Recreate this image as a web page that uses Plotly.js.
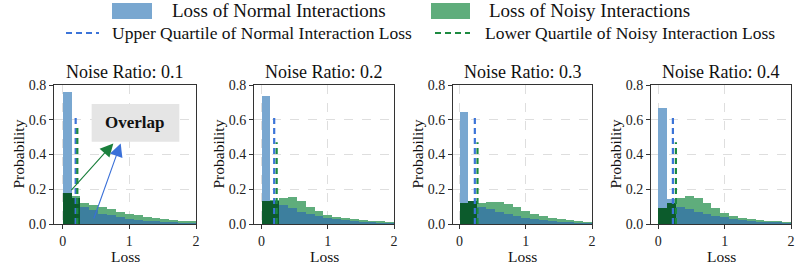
<!DOCTYPE html>
<html><head><meta charset="utf-8">
<script src="https://cdn.plot.ly/plotly-3.0.1.min.js"></script>
<style>html,body{margin:0;padding:0;background:#fff}#chart{width:806px;height:266px}</style>
</head><body><div id="chart"></div>
<script>
// ---- data ----
const panelTitles = ["Noise Ratio: 0.1", "Noise Ratio: 0.2", "Noise Ratio: 0.3", "Noise Ratio: 0.4"];
const binWidth = 2 / 15;
const normal1 = [0.76, 0.15, 0.10, 0.08, 0.06, 0.05, 0.04, 0.03, 0.025, 0.02, 0.015, 0.012, 0.01, 0.008, 0.006];
const noisy1  = [0.18, 0.16, 0.12, 0.11, 0.10, 0.085, 0.07, 0.06, 0.05, 0.04, 0.035, 0.03, 0.025, 0.02, 0.015];
const normal2 = [0.735, 0.13, 0.11, 0.09, 0.07, 0.055, 0.045, 0.035, 0.028, 0.022, 0.017, 0.013, 0.01, 0.008, 0.006];
const noisy2  = [0.134, 0.14, 0.15, 0.157, 0.13, 0.10, 0.072, 0.052, 0.04, 0.035, 0.027, 0.022, 0.018, 0.015, 0.012];
const normal3 = [0.643, 0.13, 0.10, 0.085, 0.07, 0.057, 0.046, 0.036, 0.028, 0.022, 0.017, 0.013, 0.01, 0.008, 0.006];
const noisy3  = [0.12, 0.134, 0.12, 0.125, 0.128, 0.115, 0.095, 0.075, 0.06, 0.045, 0.035, 0.028, 0.022, 0.018, 0.014];
const normal4 = [0.665, 0.142, 0.095, 0.085, 0.07, 0.06, 0.048, 0.038, 0.03, 0.024, 0.018, 0.014, 0.011, 0.009, 0.007];
const noisy4  = [0.09, 0.12, 0.148, 0.16, 0.15, 0.12, 0.09, 0.065, 0.046, 0.036, 0.03, 0.025, 0.02, 0.015, 0.012];
const upperQuartileNormal = [0.195, 0.19, 0.23, 0.22];
const lowerQuartileNoisy  = [0.22, 0.227, 0.27, 0.265];
const xTicks = [0, 1, 2];
const yTicks = [0, 0.2, 0.4, 0.6, 0.8];

const normals = [normal1, normal2, normal3, normal4];
const noisies = [noisy1, noisy2, noisy3, noisy4];

// ---- style / layout ----
const W = 806, H = 266;
const px = x => x / W, py = y => 1 - y / H;
const FONT = "'Liberation Serif', 'Times New Roman', serif";
const C_BLUE = "#79a7d0", C_GREEN = "#5fad7c", C_DKGREEN = "#0c5b2c", C_TEAL = "#3d7f9e";
const C_BLUE_LINE = "#3c74d8", C_GREEN_LINE = "#1c8a40";
const doms = [[54, 196], [254, 394], [453, 592], [651, 791]];
const xLow = [-0.13, -0.115, -0.10, -0.11];
const blueTop = 0.61, greenTop = [0.56, 0.47, 0.47, 0.47];
const yTop = 85, yBot = 224;

const traces = [];
const layout = {
  width: W, height: H, margin: {l: 0, r: 0, t: 0, b: 0},
  paper_bgcolor: "#fff", plot_bgcolor: "#fff", showlegend: false,
  barmode: "overlay", bargap: 0,
  font: {family: FONT, color: "#222"},
  annotations: [], shapes: []
};

for (let p = 0; p < 4; p++) {
  const xa = p === 0 ? "x" : "x" + (p + 1);
  const ya = p === 0 ? "y" : "y" + (p + 1);
  const centers = normals[p].map((_, i) => (i + 0.5) * binWidth);
  const overlap = normals[p].map((v, i) => Math.min(v, noisies[p][i]));
  const ovColors = centers.map(c => c < lowerQuartileNoisy[p] ? C_DKGREEN : C_TEAL);
  const common = {type: "bar", x: centers, width: binWidth, xaxis: xa, yaxis: ya, hoverinfo: "skip"};
  traces.push(Object.assign({}, common, {y: normals[p], marker: {color: C_BLUE, line: {width: 0}}}));
  traces.push(Object.assign({}, common, {y: noisies[p], marker: {color: C_GREEN, line: {width: 0}}}));
  traces.push(Object.assign({}, common, {y: overlap, marker: {color: ovColors, line: {width: 0}}}));
  traces.push({type: "scatter", mode: "lines", x: [upperQuartileNormal[p], upperQuartileNormal[p]], y: [0, blueTop],
    xaxis: xa, yaxis: ya, line: {color: C_BLUE_LINE, width: 2.2, dash: "6px,4px"}, hoverinfo: "skip"});
  traces.push({type: "scatter", mode: "lines", x: [lowerQuartileNoisy[p], lowerQuartileNoisy[p]], y: [0, greenTop[p]],
    xaxis: xa, yaxis: ya, line: {color: C_GREEN_LINE, width: 2.2, dash: "6px,4px"}, hoverinfo: "skip"});

  const axCommon = {showline: true, mirror: true, linecolor: "#333", linewidth: 1,
    ticks: "outside", ticklen: 4, tickcolor: "#333", tickwidth: 1,
    showgrid: true, gridcolor: "#dedede", griddash: "dash", gridwidth: 1, zeroline: false,
    tickfont: {family: FONT, size: 14, color: "#222"}, fixedrange: true};
  layout[p === 0 ? "xaxis" : "xaxis" + (p + 1)] = Object.assign({}, axCommon, {
    domain: [px(doms[p][0]), px(doms[p][1])], anchor: ya, range: [xLow[p], 2],
    tickvals: xTicks, ticktext: xTicks.map(String)});
  layout[p === 0 ? "yaxis" : "yaxis" + (p + 1)] = Object.assign({}, axCommon, {
    domain: [py(yBot), py(yTop)], anchor: xa, range: [0, 0.8],
    tickvals: yTicks, ticktext: yTicks.map(v => v.toFixed(1))});

  const cx = (doms[p][0] + doms[p][1]) / 2;
  layout.annotations.push({xref: "paper", yref: "paper", x: px(cx), y: py(72), text: panelTitles[p],
    showarrow: false, xanchor: "center", yanchor: "middle", font: {family: FONT, size: 18, color: "#111"}});
  layout.annotations.push({xref: "paper", yref: "paper", x: px(cx), y: py(256), text: "Loss",
    showarrow: false, xanchor: "center", yanchor: "middle", font: {family: FONT, size: 15.5, color: "#111"}});
  layout.annotations.push({xref: "paper", yref: "paper", x: px(doms[p][0] - 36), y: py(154.5), text: "Probability",
    textangle: -90, showarrow: false, xanchor: "center", yanchor: "middle", font: {family: FONT, size: 15.5, color: "#111"}});
}

// Overlap callout (panel 1)
layout.shapes.push({type: "rect", xref: "x", yref: "y", x0: 0.435, x1: 1.75, y0: 0.474, y1: 0.69,
  fillcolor: "#e5e5e5", line: {width: 0}, layer: "above"});
layout.annotations.push({xref: "x", yref: "y", x: 1.09, y: 0.582, text: "<b>Overlap</b>", showarrow: false,
  font: {family: FONT, size: 17, color: "#111"}});
layout.annotations.push({xref: "x", yref: "y", axref: "x", ayref: "y", x: 0.76, y: 0.464, ax: 0.11, ay: 0.186,
  text: "", showarrow: true, arrowhead: 2, arrowsize: 2.4, arrowwidth: 1.1, arrowcolor: "#1a7f3c", standoff: 0});
layout.annotations.push({xref: "x", yref: "y", axref: "x", ayref: "y", x: 0.87, y: 0.464, ax: 0.46, ay: 0.023,
  text: "", showarrow: true, arrowhead: 2, arrowsize: 2.4, arrowwidth: 1.1, arrowcolor: "#3a70d8", standoff: 0});

// Legend (top)
layout.shapes.push({type: "rect", xref: "paper", yref: "paper", x0: px(112), x1: px(152), y0: py(19), y1: py(3),
  fillcolor: C_BLUE, line: {width: 0}});
layout.shapes.push({type: "rect", xref: "paper", yref: "paper", x0: px(431), x1: px(470), y0: py(19), y1: py(3),
  fillcolor: C_GREEN, line: {width: 0}});
layout.shapes.push({type: "line", xref: "paper", yref: "paper", x0: px(66), x1: px(99), y0: py(33), y1: py(33),
  line: {color: C_BLUE_LINE, width: 2, dash: "6px,4px"}});
layout.shapes.push({type: "line", xref: "paper", yref: "paper", x0: px(435), x1: px(470), y0: py(33), y1: py(33),
  line: {color: C_GREEN_LINE, width: 2, dash: "6px,4px"}});
const legTexts = [
  ["Loss of Normal Interactions", 170, 11, 19],
  ["Loss of Noisy Interactions", 487, 11, 19],
  ["Upper Quartile of Normal Interaction Loss", 110, 33, 17.5],
  ["Lower Quartile of Noisy Interaction Loss", 483, 33, 17.5]
];
legTexts.forEach(t => layout.annotations.push({xref: "paper", yref: "paper", x: px(t[1]), y: py(t[2]), text: t[0],
  showarrow: false, xanchor: "left", yanchor: "middle", font: {family: FONT, size: t[3], color: "#111"}}));

Plotly.newPlot("chart", traces, layout, {staticPlot: true});
</script></body></html>
